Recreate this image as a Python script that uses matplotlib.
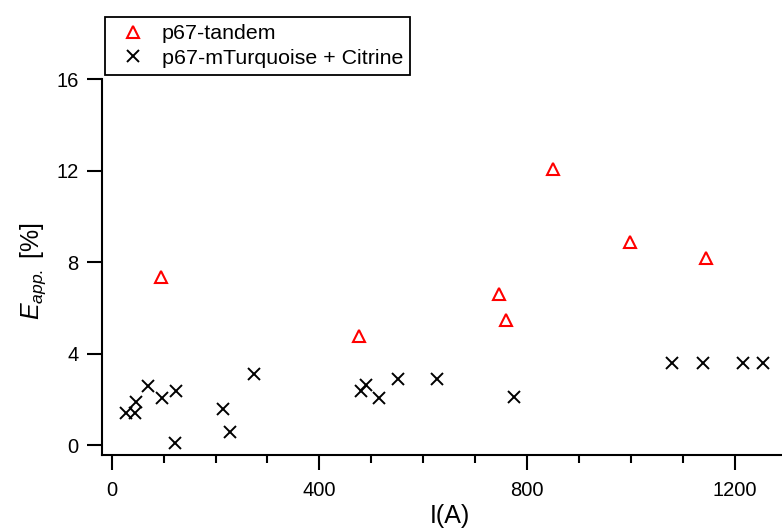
import matplotlib

matplotlib.use('Agg')
from matplotlib import pyplot as plt
from matplotlib.ticker import MultipleLocator

plt.rcParams['font.family'] = ['Liberation Sans', 'DejaVu Sans']
plt.rcParams['mathtext.fontset'] = 'custom'
plt.rcParams['mathtext.rm'] = 'Liberation Sans'
plt.rcParams['mathtext.it'] = 'Liberation Sans:italic'

# p67-tandem
tandem_x = [94, 476, 745, 759, 849, 998, 1145]
tandem_y = [7.37, 4.77, 6.60, 5.46, 12.07, 8.87, 8.20]

# p67-mTurquoise + Citrine
pair_x = [27, 45, 47, 70, 96, 123, 122, 214, 228, 275,
          480, 489, 515, 551, 626, 775, 1080, 1138, 1215, 1255]
pair_y = [1.40, 1.40, 1.90, 2.59, 2.08, 2.39, 0.09, 1.60, 0.57, 3.10,
          2.39, 2.62, 2.08, 2.90, 2.90, 2.10, 3.58, 3.58, 3.58, 3.58]

y_ticks = [0, 4, 8, 12, 16]
x_ticks = [0, 400, 800, 1200]

fig = plt.figure(figsize=(7.82, 5.32), dpi=100)
ax = fig.add_axes([102 / 782, 77 / 532, 680 / 782, 376 / 532])

ax.plot(tandem_x, tandem_y, linestyle='none', marker='^', markersize=9,
        markerfacecolor='none', markeredgecolor='#ff0000', markeredgewidth=1.5,
        label='p67-tandem')
ax.plot(pair_x, pair_y, linestyle='none', marker='x', markersize=9,
        color='black', markeredgewidth=1.4, label='p67-mTurquoise + Citrine')

ax.set_xlim(-18.7, 1291)
ax.set_ylim(-0.42, 16)

ax.set_xticks(x_ticks)
ax.xaxis.set_minor_locator(MultipleLocator(100))
ax.set_yticks(y_ticks)

for s in ['top', 'right']:
    ax.spines[s].set_visible(False)
for s in ['left', 'bottom']:
    ax.spines[s].set_linewidth(1.5)

ax.tick_params(axis='both', which='major', length=11, width=1.5, labelsize=14.5)
ax.tick_params(axis='x', which='minor', length=5.5, width=1.5)
ax.tick_params(axis='x', which='major', pad=8)
ax.tick_params(axis='y', which='major', pad=6)

ax.set_xlabel('I(A)', fontsize=18)
ax.xaxis.set_label_coords(0.512, -0.129)
ax.set_ylabel(r'$E_{app.}$ [%]', fontsize=18)
ax.yaxis.set_label_coords(-0.08, 0.49)

leg = fig.legend(loc='upper left', bbox_to_anchor=(105 / 782, 1 - 17 / 532),
                 fontsize=15.4, frameon=True, fancybox=False, framealpha=1,
                 edgecolor='black', handlelength=1.96, handletextpad=0.37,
                 labelspacing=0.26, borderpad=0.33, borderaxespad=0)
leg.get_frame().set_linewidth(1.3)

fig.savefig('out.png', dpi=100)
